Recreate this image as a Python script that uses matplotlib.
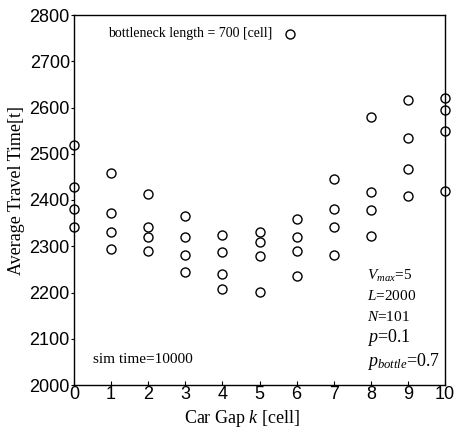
import matplotlib.pyplot as plt
import numpy as np

# car gap k and measured average travel times (4 runs per gap)
gaps = [0, 1, 2, 3, 4, 5, 6, 7, 8, 9, 10]
run1 = [2520, 2458, 2413, 2365, 2324, 2331, 2360, 2446, 2580, 2616, 2620]
run2 = [2428, 2371, 2342, 2320, 2287, 2310, 2320, 2381, 2417, 2533, 2594]
run3 = [2381, 2330, 2321, 2282, 2240, 2279, 2290, 2342, 2378, 2467, 2550]
run4 = [2341, 2294, 2290, 2245, 2207, 2202, 2235, 2282, 2322, 2408, 2420]

xticks = list(range(0, 11))
yticks = list(range(2000, 2801, 100))

plt.rcParams['mathtext.fontset'] = 'custom'
plt.rcParams['mathtext.rm'] = 'Liberation Serif'
plt.rcParams['mathtext.it'] = 'Liberation Serif:italic'

fig = plt.figure(figsize=(4.56, 4.32), dpi=100)
ax = fig.add_axes([74/456, 1 - 385/432, (445-74)/456, (385-15)/432])

for run in [run1, run2, run3, run4]:
    ax.plot(gaps, run, 'o', mfc='none', mec='black', ms=6.5, mew=1, clip_on=False)

ax.set_xlim(0, 10)
ax.set_ylim(2000, 2800)
ax.set_xticks(xticks)
ax.set_yticks(yticks)
ax.tick_params(axis='x', direction='in', length=3, labelsize=13, pad=1)
ax.tick_params(axis='y', direction='out', length=2, labelsize=13, pad=1)
for lab in ax.get_xticklabels() + ax.get_yticklabels():
    lab.set_family('Liberation Sans')

for s in ax.spines.values():
    s.set_linewidth(1)

ax.set_xlabel('Car Gap $k$ [cell]', family='Liberation Serif', fontsize=13)
ax.set_ylabel('Average Travel Time[t]', family='Liberation Serif', fontsize=13)
ax.xaxis.set_label_coords(0.453, -0.062)
ax.yaxis.set_label_coords(-0.132, 0.527)

# legend-like annotation
ax.text(0.92, 2761, 'bottleneck length = 700 [cell]', family='Liberation Serif',
        fontsize=10, va='center')
ax.plot([5.82], [2760], 'o', mfc='none', mec='black', ms=6.5, mew=1)

ax.text(0.5, 2056, 'sim time=10000', family='Liberation Serif', fontsize=11, va='center')

params = [('$V_{max}$=5', 11, 2236), ('$L$=2000', 11, 2192),
          ('$N$=101', 11, 2147), ('$p$=0.1', 13, 2102), ('$p_{bottle}$=0.7', 13, 2050)]
for txt, fs, yv in params:
    ax.text(7.9, yv, txt, family='Liberation Serif', fontsize=fs, va='center')

fig.savefig('out.png', dpi=100)
